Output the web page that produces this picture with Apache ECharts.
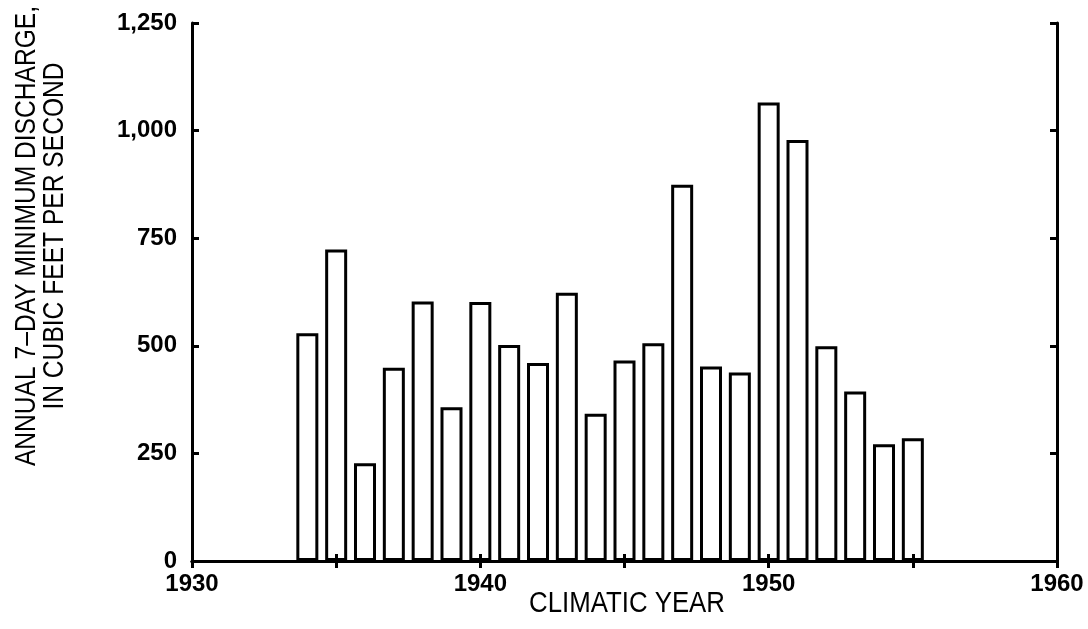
<!DOCTYPE html>
<html>
<head>
<meta charset="utf-8">
<script src="https://cdn.jsdelivr.net/npm/echarts@6/dist/echarts.min.js"></script>
<style>
  html, body { margin: 0; padding: 0; background: #fff; }
  #chart { width: 1088px; height: 629px; }
</style>
</head>
<body>
<div id="chart"></div>
<script>
// climatic years and annual 7-day minimum discharge (cfs)
var years = [1934, 1935, 1936, 1937, 1938, 1939, 1940, 1941, 1942, 1943, 1944,
             1945, 1946, 1947, 1948, 1949, 1950, 1951, 1952, 1953, 1954, 1955];
var discharge = [529, 724, 227, 449, 603, 357, 602, 502, 460, 623, 342,
                 466, 506, 874, 452, 438, 1065, 978, 499, 394, 271, 285];

var tickFont = { fontFamily: 'Liberation Sans', fontWeight: 'bold', fontSize: 24, color: '#000' };
var titleFont = '30px "Liberation Sans", sans-serif';

var chart = echarts.init(document.getElementById('chart'));

var fmtY = function (v) { return v.toLocaleString('en-US'); };
var fmtX = function (v) { return v % 10 === 0 ? String(v) : ''; };
var line = { show: true, lineStyle: { color: '#000', width: 3 } };
var tick = { show: true, inside: true, length: 7, lineStyle: { color: '#000', width: 3 } };

chart.setOption({
  animation: false,
  backgroundColor: '#fff',
  grid: { left: 192, right: 31, top: 23, bottom: 68 },
  xAxis: [{
    type: 'value', min: 1930, max: 1960, interval: 5, z: 5,
    axisLine: line, axisTick: tick,
    axisLabel: Object.assign({ formatter: fmtX, margin: 11 }, tickFont),
    splitLine: { show: false }
  }, {
    type: 'value', position: 'top', min: 1930, max: 1960, interval: 5, z: 5,
    axisLine: line, axisTick: tick,
    axisLabel: { show: false },
    splitLine: { show: false }
  }],
  yAxis: [{
    type: 'value', min: 0, max: 1250, interval: 250, z: 5,
    axisLine: line, axisTick: tick,
    axisLabel: Object.assign({ formatter: fmtY, margin: 15 }, tickFont),
    splitLine: { show: false }
  }, {
    type: 'value', position: 'right', min: 0, max: 1250, interval: 250, z: 5,
    axisLine: line, axisTick: tick,
    axisLabel: { show: false },
    splitLine: { show: false }
  }],
  graphic: [{
    type: 'text',
    x: 41, y: 236,
    rotation: Math.PI / 2,
    scaleX: 0.82,
    style: {
      text: 'ANNUAL 7\u2013DAY MINIMUM DISCHARGE,\nIN CUBIC FEET PER SECOND',
      font: titleFont,
      fill: '#000',
      align: 'center',
      verticalAlign: 'middle',
      lineHeight: 28
    }
  }, {
    type: 'text',
    x: 627, y: 604,
    scaleX: 0.86,
    style: {
      text: 'CLIMATIC YEAR',
      font: titleFont,
      fill: '#000',
      align: 'center',
      verticalAlign: 'middle'
    }
  }],
  series: [{
    type: 'bar',
    xAxisIndex: 0, yAxisIndex: 0,
    barWidth: 22,
    data: years.map(function (y, i) { return [y, discharge[i]]; }),
    itemStyle: { color: '#fff', borderColor: '#000', borderWidth: 3 }
  }]
});
</script>
</body>
</html>
